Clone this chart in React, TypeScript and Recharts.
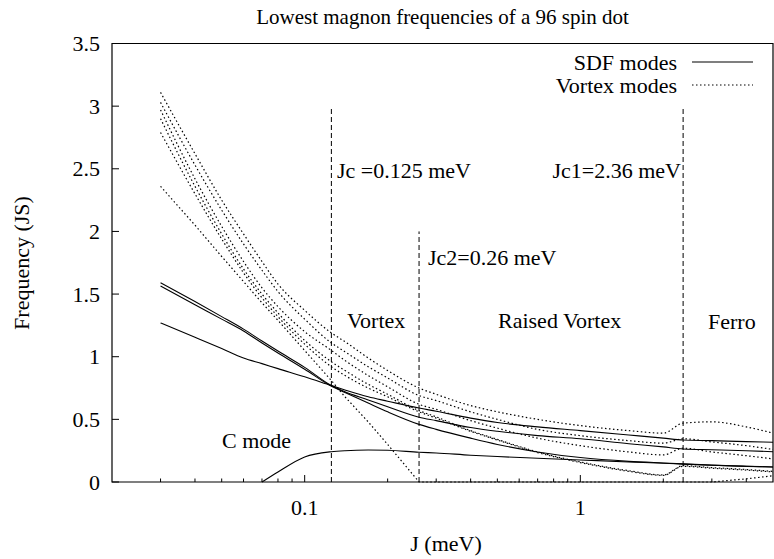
import React from "react";
import { ComposedChart, Line, XAxis, YAxis, ReferenceLine, ReferenceArea } from "recharts";

// exchange J (meV) sample points
const J = [0.03, 0.04, 0.05, 0.06, 0.07, 0.08, 0.1, 0.125, 0.14, 0.17, 0.2, 0.26, 0.3, 0.4, 0.5, 0.7, 1, 1.5, 2, 2.36, 3, 4, 5];

// SDF modes (solid)
const sdfA = [1.59, 1.44, 1.32, 1.22, 1.125, 1.045, 0.915, 0.77, 0.72, 0.655, 0.6, 0.517, 0.49, 0.435, 0.405, 0.37, 0.345, 0.305, 0.28, 0.264, 0.258, 0.25, 0.242];
const sdfB = [1.565, 1.415, 1.3, 1.205, 1.11, 1.03, 0.9, 0.765, 0.715, 0.63, 0.56, 0.46, 0.42, 0.35, 0.3, 0.24, 0.195, 0.165, 0.152, 0.145, 0.135, 0.125, 0.12];
const sdfC = [1.27, 1.155, 1.065, 0.99, 0.945, 0.905, 0.84, 0.77, 0.735, 0.68, 0.645, 0.59, 0.565, 0.51, 0.475, 0.44, 0.41, 0.375, 0.35, 0.335, 0.33, 0.322, 0.317];
const cMode = [null, null, null, null, 0, 0.08, 0.2, 0.242, 0.25, 0.255, 0.253, 0.238, 0.232, 0.214, 0.203, 0.19, 0.176, 0.16, 0.15, 0.143, 0.134, 0.126, 0.12];

// vortex modes (dotted)
const vortex1 = [3.11, 2.62, 2.25, 1.98, 1.76, 1.58, 1.37, 1.19, 1.12, 0.99, 0.89, 0.75, 0.7, 0.61, 0.56, 0.5, 0.45, 0.41, 0.39, 0.47, 0.48, 0.44, 0.39];
const vortex2 = [3.03, 2.53, 2.17, 1.9, 1.69, 1.52, 1.3, 1.11, 1.04, 0.92, 0.83, 0.69, 0.65, 0.56, 0.5, 0.42, 0.37, 0.33, 0.31, 0.345, 0.32, 0.29, 0.26];
const vortex3 = [2.97, 2.42, 2.04, 1.76, 1.55, 1.4, 1.2, 1.05, 0.97, 0.85, 0.76, 0.62, 0.58, 0.49, 0.43, 0.35, 0.29, 0.24, 0.216, 0.27, 0.24, 0.21, 0.184];
const vortex4 = [2.9, 2.36, 1.98, 1.7, 1.5, 1.35, 1.13, 0.96, 0.89, 0.78, 0.7, 0.57, 0.52, 0.41, 0.34, 0.24, 0.16, 0.09, 0.056, 0.13, 0.115, 0.1, 0.085];
const vortex5 = [2.79, 2.3, 1.94, 1.67, 1.47, 1.32, 1.1, 0.92, 0.85, 0.75, 0.68, 0.56, 0.51, 0.405, 0.335, 0.235, 0.155, 0.085, 0.053, 0.125, 0.11, 0.095, 0.08];
// soft mode: goes to zero at Jc2
const vortex6 = [2.36, 2.05, 1.8, 1.6, 1.43, 1.29, 1.05, 0.81, 0.68, 0.48, 0.3, 0, 0, 0, 0, 0, 0, 0, 0, 0, 0, 0.025, 0.05];

// critical couplings and the height of their marker lines
const critJ = [0.125, 0.26, 2.36];
const critTop = [3, 2, 3];

const xTicks = [0.03, 0.04, 0.05, 0.06, 0.07, 0.08, 0.09, 0.1, 0.2, 0.3, 0.4, 0.5, 0.6, 0.7, 0.8, 0.9, 1, 2, 3, 4];
const xMajor = [0.1, 1];
const yTicks = [0, 0.5, 1, 1.5, 2, 2.5, 3, 3.5];

const solidKeys = ["sdfA", "sdfB", "sdfC", "cMode"];
const dottedKeys = ["v1", "v2", "v3", "v4", "v5"];

const data = J.map((j, i) => ({
  J: j,
  sdfA: sdfA[i],
  sdfB: sdfB[i],
  sdfC: sdfC[i],
  cMode: cMode[i],
  v1: vortex1[i],
  v2: vortex2[i],
  v3: vortex3[i],
  v4: vortex4[i],
  v5: vortex5[i],
  v6: vortex6[i],
}));

const FONT = "Liberation Serif, Times New Roman, serif";
const FS = 22;

const txt = { fontFamily: FONT, fontSize: FS, fill: "#000" };
const DOTS = "1.5 2.5";

const XTickBottom = (props: any) => {
  const { x, y, payload } = props;
  const major = xMajor.includes(payload.value);
  return (
    <g>
      <line x1={x} x2={x} y1={y} y2={y - (major ? 7 : 3.5)} stroke="#000" />
      {major && (
        <text x={x} y={y + 25} textAnchor="middle" dominantBaseline="central" {...txt}>
          {payload.value}
        </text>
      )}
    </g>
  );
};

const XTickTop = (props: any) => {
  const { x, y, payload } = props;
  const major = xMajor.includes(payload.value);
  return <line x1={x} x2={x} y1={y} y2={y + (major ? 7 : 3.5)} stroke="#000" />;
};

const YTickLeft = (props: any) => {
  const { x, y, payload } = props;
  return (
    <g>
      <line x1={x} x2={x + 7} y1={y} y2={y} stroke="#000" />
      <text x={x - 12} y={y} textAnchor="end" dominantBaseline="central" {...txt}>
        {payload.value}
      </text>
    </g>
  );
};

const YTickRight = (props: any) => {
  const { x, y } = props;
  return <line x1={x} x2={x - 7} y1={y} y2={y} stroke="#000" />;
};

export default function App() {
  return (
    <div style={{ position: "absolute", left: 0, top: 0, width: 774, height: 559, background: "#fff" }}>
      <ComposedChart width={774} height={559} data={data} margin={{ top: 43.5, right: 1, bottom: 0, left: 0 }}>
        <XAxis
          dataKey="J"
          type="number"
          scale="log"
          domain={[0.02, 5]}
          allowDataOverflow
          ticks={xTicks}
          interval={0}
          tick={<XTickBottom />}
          tickSize={0}
          tickMargin={0}
          axisLine={false}
          tickLine={false}
          height={77}
        />
        <XAxis
          xAxisId="top"
          orientation="top"
          dataKey="J"
          type="number"
          scale="log"
          domain={[0.02, 5]}
          allowDataOverflow
          ticks={xTicks}
          interval={0}
          tick={<XTickTop />}
          tickSize={0}
          tickMargin={0}
          axisLine={false}
          tickLine={false}
          height={0}
        />
        <YAxis
          type="number"
          domain={[0, 3.5]}
          ticks={yTicks}
          interval={0}
          tick={<YTickLeft />}
          tickSize={0}
          tickMargin={0}
          axisLine={false}
          tickLine={false}
          width={112}
        />
        <YAxis
          yAxisId="right"
          orientation="right"
          type="number"
          domain={[0, 3.5]}
          ticks={yTicks}
          interval={0}
          tick={<YTickRight />}
          tickSize={0}
          tickMargin={0}
          axisLine={false}
          tickLine={false}
          width={0}
        />
        <ReferenceArea x1={0.02} x2={5} y1={0} y2={3.5} fill="none" stroke="#000" strokeWidth={1.2} ifOverflow="visible" />
        {critJ.map((c, i) => (
          <ReferenceLine
            key={c}
            segment={[{ x: c, y: 0 }, { x: c, y: critTop[i] }]}
            stroke="#000"
            strokeDasharray="5 3"
          />
        ))}
        {solidKeys.map((k) => (
          <Line key={k} dataKey={k} type="monotone" stroke="#000" strokeWidth={1.1} dot={false} isAnimationActive={false} />
        ))}
        {dottedKeys.map((k) => (
          <Line
            key={k}
            dataKey={k}
            type="monotone"
            stroke="#000"
            strokeWidth={1.2}
            strokeDasharray={DOTS}
            dot={false}
            isAnimationActive={false}
          />
        ))}
        <Line dataKey="v6" type="linear" stroke="#000" strokeWidth={1.2} strokeDasharray={DOTS} dot={false} isAnimationActive={false} />
        <text x={442.5} y={17} textAnchor="middle" dominantBaseline="central" {...txt} fontSize={21}>
          Lowest magnon frequencies of a 96 spin dot
        </text>
        <text x={446} y={543} textAnchor="middle" dominantBaseline="central" {...txt}>
          J (meV)
        </text>
        <text x={21} y={263} textAnchor="middle" dominantBaseline="central" transform="rotate(-90 21 263)" {...txt}>
          Frequency (JS)
        </text>
        <text x={337} y={170} dominantBaseline="central" {...txt}>Jc =0.125 meV</text>
        <text x={681} y={170} textAnchor="end" dominantBaseline="central" {...txt}>Jc1=2.36 meV</text>
        <text x={428} y={257} dominantBaseline="central" {...txt}>Jc2=0.26 meV</text>
        <text x={347} y={320} dominantBaseline="central" {...txt}>Vortex</text>
        <text x={498} y={320} dominantBaseline="central" {...txt}>Raised Vortex</text>
        <text x={708} y={321} dominantBaseline="central" {...txt}>Ferro</text>
        <text x={222} y={440} dominantBaseline="central" {...txt}>C mode</text>
        <text x={677} y={62} textAnchor="end" dominantBaseline="central" {...txt}>SDF modes</text>
        <line x1={692} x2={753} y1={62} y2={62} stroke="#000" strokeWidth={1.1} />
        <text x={677} y={85} textAnchor="end" dominantBaseline="central" {...txt}>Vortex modes</text>
        <line x1={692} x2={753} y1={85} y2={85} stroke="#000" strokeWidth={1.2} strokeDasharray={DOTS} />
      </ComposedChart>
    </div>
  );
}
